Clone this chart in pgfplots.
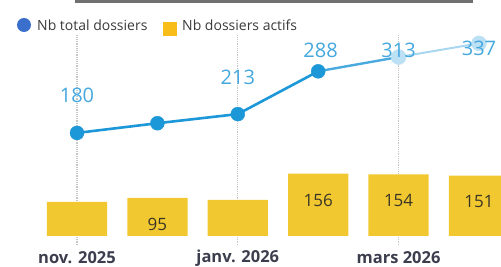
\documentclass[border=0pt]{standalone}
\usepackage{fontspec}
\setmainfont{Open Sans}
\usepackage{pgfplots}
\pgfplotsset{compat=1.18}
\definecolor{barc}{HTML}{F2C830}
\definecolor{linec}{HTML}{1C97D7}
\definecolor{linec2}{HTML}{4AAAE0}
\definecolor{fadec}{HTML}{A9D6F0}
\definecolor{fadept}{HTML}{BCE0F4}
\definecolor{lblc}{HTML}{45A8DE}
\definecolor{barlab}{HTML}{3A3626}
\definecolor{tickc}{HTML}{3C3E4E}
\definecolor{legcirc}{HTML}{3A6FCB}
\definecolor{legsq}{HTML}{F8BD18}
\definecolor{legtext}{HTML}{3A3A3A}
\definecolor{titlec}{HTML}{333333}
\begin{document}
\begin{tikzpicture}[x=1pt,y=1pt]
% bars axis
\begin{axis}[at={(0,0)}, anchor=south west, scale only axis,
  width=501pt, height=267pt,
  xmin=-0.958, xmax=5.274, ymin=-77.5, ymax=590,
  axis line style={draw=none}, tick style={draw=none}, ytick=\empty,
  xtick={0,2,4}, xticklabels={nov. 2025, janv. 2026, mars 2026},
  xticklabel style={anchor=center, yshift=9pt, font=\bfseries\fontsize{16.5}{16.5}\selectfont, text=tickc},
  clip=false]
\addplot[densely dotted, gray!45, line width=1.2pt, forget plot] coordinates {(0,-22) (0,502)};
\addplot[densely dotted, gray!45, line width=1.2pt, forget plot] coordinates {(2,-22) (2,502)};
\addplot[densely dotted, gray!45, line width=1.2pt, forget plot] coordinates {(4,-22) (4,502)};
\addplot[ybar, bar width=0.75, fill=barc, draw=none] coordinates {(0,85) (1,95) (2,90) (3,156) (4,154) (5,151)};
\addplot[draw=none, mark=none, nodes near coords, point meta=explicit symbolic,
  every node near coord/.append style={anchor=center, font=\fontsize{17}{17}\selectfont, text=barlab}]
  coordinates {(1,30)[95] (3,90)[156] (4,90)[154] (5,85)[151]};
\end{axis}
% line axis
\begin{axis}[at={(0,0)}, anchor=south west, scale only axis,
  width=501pt, height=267pt,
  xmin=-0.958, xmax=5.274, ymin=-55, ymax=413,
  hide axis, clip=false]
\addplot[line width=2.6pt, linec] coordinates {(0,180) (1,197) (2,213) (3,288)};
\addplot[line width=2.4pt, linec2] coordinates {(3,288) (4,313)};
\addplot[line width=2pt, fadec] coordinates {(4,313) (5,337)};
\addplot[color=linec, only marks, mark=*, mark size=7pt, mark options={draw=linec, fill=linec}] coordinates {(0,180) (1,197) (2,213) (3,288)};
\addplot[color=fadept, only marks, mark=*, mark size=7.5pt, mark options={draw=fadept, fill=fadept}] coordinates {(4,313) (5,337)};
\addplot[draw=none, mark=none, nodes near coords, point meta=explicit symbolic,
  every node near coord/.append style={anchor=center, font=\fontsize{20}{20}\selectfont, text=lblc}]
  coordinates {(0,246.7)[180] (2,278)[213] (3.03,325.6)[288] (4,325.6)[313] (5,329)[337]};
\end{axis}
% legend
\fill[legcirc] (24,242) circle (7);
\node[anchor=west, inner sep=0, font=\fontsize{14}{14}\selectfont, text=legtext] at (37,242) {Nb total dossiers};
\fill[legsq] (163,231) rectangle (177,245);
\node[anchor=west, inner sep=0, font=\fontsize{14}{14}\selectfont, text=legtext] at (182,242) {Nb dossiers actifs};
% title underline (title itself lies above the cropped area)
\fill[titlec!70] (75,263.5) rectangle (473,267);
\pgfresetboundingbox
\useasboundingbox (0,0) rectangle (501,267);
\end{tikzpicture}
\end{document}
